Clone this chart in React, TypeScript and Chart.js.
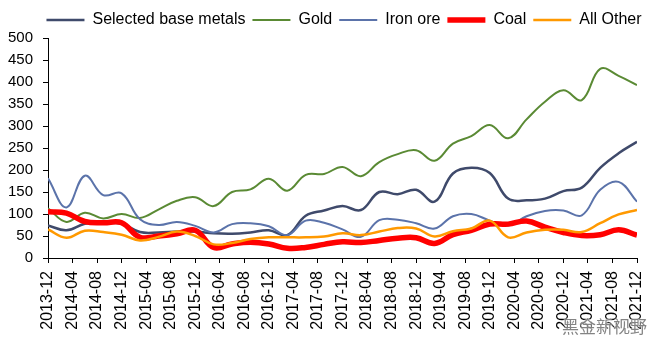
import React, { useEffect, useRef } from "react";
import { Chart, registerables } from "chart.js";

Chart.register(...registerables);

const QUARTERS = [
  "2013-12", "2014-03", "2014-06", "2014-09", "2014-12", "2015-03", "2015-06", "2015-09",
  "2015-12", "2016-03", "2016-06", "2016-09", "2016-12", "2017-03", "2017-06", "2017-09",
  "2017-12", "2018-03", "2018-06", "2018-09", "2018-12", "2019-03", "2019-06", "2019-09",
  "2019-12", "2020-03", "2020-06", "2020-09", "2020-12", "2021-03", "2021-06", "2021-09",
  "2021-12",
];

const TICK_LABELS = [
  "2013-12", "2014-04", "2014-08", "2014-12", "2015-04", "2015-08", "2015-12", "2016-04",
  "2016-08", "2016-12", "2017-04", "2017-08", "2017-12", "2018-04", "2018-08", "2018-12",
  "2019-04", "2019-08", "2019-12", "2020-04", "2020-08", "2020-12", "2021-04", "2021-08",
  "2021-12",
];

const BASE_METALS = [
  74, 63, 78, 80, 78, 59, 58, 60, 60, 56, 55, 58, 63, 52, 96, 108, 118, 109, 150, 145, 155,
  128, 192, 205, 193, 135, 131, 135, 152, 160, 205, 238, 264,
];
const GOLD = [
  113, 82, 103, 90, 100, 91, 110, 130, 138, 118, 150, 156, 180, 153, 189, 191, 207, 186, 218,
  236, 245, 221, 260, 277, 302, 272, 315, 355, 381, 359, 430, 414, 393,
];
const IRON_ORE = [
  181, 115, 187, 143, 147, 88, 75, 82, 73, 58, 77, 79, 72, 52, 85, 80, 65, 48, 86, 87, 79, 67,
  95, 100, 85, 74, 95, 107, 108, 97, 155, 173, 128,
];
const COAL = [
  105, 102, 83, 80, 80, 47, 50, 55, 63, 24, 32, 36, 32, 22, 24, 31, 37, 35, 40, 45, 46, 33, 53,
  63, 77, 77, 84, 70, 58, 51, 53, 64, 52,
];
const ALL_OTHER = [
  65, 46, 62, 59, 53, 40, 48, 60, 50, 31, 34, 43, 47, 47, 47, 49, 56, 52, 60, 68, 67, 49, 61,
  67, 85, 47, 58, 64, 64, 59, 79, 99, 109,
];

function monthOffset(label: string): number {
  const [y, m] = label.split("-").map(Number);
  return (y - 2013) * 12 + (m - 12);
}

export default function App() {
  const ref = useRef<HTMLCanvasElement>(null);

  useEffect(() => {
    document.body.style.margin = "0";
    const canvas = ref.current;
    if (!canvas) return;
    const font = "'Liberation Sans', Arial, Helvetica, sans-serif";

    const mk = (label: string, values: number[], color: string, width: number, order: number) => ({
      label,
      data: values.map((v, i) => ({ x: monthOffset(QUARTERS[i]), y: v })),
      borderColor: color,
      backgroundColor: color,
      borderWidth: width,
      pointRadius: 0,
      pointHoverRadius: 0,
      tension: 0.4,
      fill: false,
      order,
    });

    const shiftLegend = {
      id: "shiftLegend",
      afterLayout(chart: any) {
        if (chart.legend) chart.legend.left += 28;
      },
    };

    const chart = new Chart(canvas, {
      type: "line",
      data: {
        datasets: [
          mk("Selected base metals", BASE_METALS, "#3F4A6B", 2.5, 4),
          mk("Gold", GOLD, "#5A8A34", 2, 3),
          mk("Iron ore", IRON_ORE, "#5B73AA", 2, 2),
          mk("Coal", COAL, "#FF0000", 5.5, 1),
          mk("All Other", ALL_OTHER, "#FF9900", 2.5, 0),
        ],
      },
      plugins: [shiftLegend],
      options: {
        animation: false,
        responsive: false,
        layout: { padding: { left: 0, right: 0, top: -6, bottom: 0 } },
        plugins: {
          legend: {
            position: "top",
            labels: {
              usePointStyle: true,
              pointStyle: "line",
              pointStyleWidth: 38,
              padding: 7,
              color: "#000",
              font: { family: font, size: 16 },
              sort: (a: any, b: any) => a.datasetIndex - b.datasetIndex,
            },
          },
          tooltip: { enabled: false },
        },
        scales: {
          x: {
            type: "linear",
            min: 0,
            max: 96,
            ticks: {
              stepSize: 4,
              autoSkip: false,
              minRotation: 90,
              maxRotation: 90,
              padding: 8,
              color: "#000",
              font: { family: font, size: 16 },
              callback: (v: any) => TICK_LABELS[Math.round(Number(v) / 4)],
            },
            grid: { drawOnChartArea: false, tickLength: 5, color: "#000" },
            border: { color: "#000", width: 1 },
            afterFit: (s: any) => {
              s.height = 82;
              s.paddingRight = 23;
              s.paddingLeft = 0;
            },
          },
          y: {
            min: 0,
            max: 500,
            ticks: {
              stepSize: 50,
              padding: 10,
              color: "#000",
              font: { family: font, size: 15 },
            },
            grid: { drawOnChartArea: false, tickLength: 5, color: "#000" },
            border: { color: "#000", width: 1 },
            afterFit: (s: any) => {
              s.width = 48;
              s.paddingTop = 38;
            },
          },
        },
      },
    } as any);

    return () => chart.destroy();
  }, []);

  return (
    <div style={{ position: "relative", width: 660, height: 340 }}>
      <canvas ref={ref} width={660} height={340} style={{ display: "block" }} />
      <div
        style={{
          position: "absolute",
          left: 562,
          top: 313,
          fontFamily: "'Noto Sans CJK SC', sans-serif",
          fontSize: 17,
          color: "rgba(110,110,110,0.85)",
          textShadow: "0 0 2px #fff, 0 0 2px #fff",
          whiteSpace: "nowrap",
        }}
      >
        黑金新视野
      </div>
    </div>
  );
}
